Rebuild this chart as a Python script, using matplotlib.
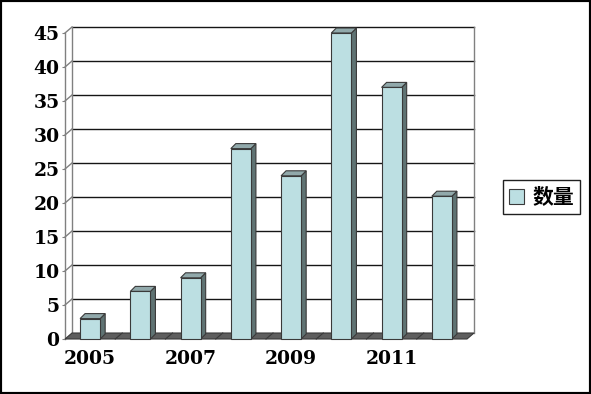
import matplotlib
matplotlib.use('Agg')
import matplotlib.pyplot as plt
from matplotlib.patches import Polygon, Rectangle
import numpy as np

years = ['2005', '2006', '2007', '2008', '2009', '2010', '2011', '2012']
counts = [3, 7, 9, 28, 24, 45, 37, 21]
yticks = [0, 5, 10, 15, 20, 25, 30, 35, 40, 45]
xtick_years = ['2005', '2007', '2009', '2011']
series_name = '数量'

W, H = 591, 394
fig = plt.figure(figsize=(W / 100, H / 100), dpi=100)
fig.patch.set_facecolor('white')
ax = fig.add_axes([65 / W, (H - 339) / H, 402 / W, 306 / H])
n = len(years)
xs = np.arange(n)
ax.set_xlim(-0.5, n - 0.5)
ax.set_ylim(0, 45)
for s in ax.spines.values():
    s.set_visible(False)
ax.patch.set_visible(False)


def px(dxp, dyp):
    inv = ax.transData.inverted()
    o = inv.transform((0, 0))
    p = inv.transform((dxp, dyp))
    return p[0] - o[0], p[1] - o[1]


wx, wy = px(7, 6)     # wall depth
bx, by = px(5, 5)     # bar depth
x0, x1 = -0.5, n - 0.5
ymax = yticks[-1]

grid_c = '#151515'
wall_c = '#808080'
# back wall gridlines
for v in yticks[1:]:
    ax.plot([x0 + wx, x1 + wx], [v + wy, v + wy], color=grid_c, lw=1.0,
            clip_on=False, zorder=1)
# left wall
ax.plot([x0, x0], [0, ymax], color=wall_c, lw=1.0, clip_on=False, zorder=1)
ax.plot([x0 + wx, x0 + wx], [wy, ymax + wy], color=wall_c, lw=1.0, clip_on=False, zorder=1)
for v in yticks[1:]:
    ax.plot([x0, x0 + wx], [v, v + wy], color=wall_c, lw=1.0, clip_on=False, zorder=1)
# right edge of back wall
ax.plot([x1 + wx, x1 + wx], [wy, ymax + wy], color=wall_c, lw=1.0, clip_on=False, zorder=1)

# floor
floor = Polygon([(x0, 0), (x1, 0), (x1 + wx, wy), (x0 + wx, wy)], closed=True,
                facecolor='#5e5e5e', edgecolor='#3a3a3a', lw=0.8, clip_on=False, zorder=2)
ax.add_patch(floor)
for b in np.arange(x0 + 1, x1, 1):
    ax.plot([b, b + wx], [0, wy], color='#3a3a3a', lw=0.8, clip_on=False, zorder=2)

# bars
bw = 0.4
front_c = '#bcdfe2'
side_c = '#5f7373'
top_c = '#91a9ab'
edge_c = '#3a3a3a'
for x, v in zip(xs, counts):
    side = Polygon([(x + bw / 2, 0), (x + bw / 2 + bx, by), (x + bw / 2 + bx, v + by), (x + bw / 2, v)],
                   closed=True, facecolor=side_c, edgecolor=edge_c, lw=0.8, clip_on=False, zorder=3)
    top = Polygon([(x - bw / 2, v), (x + bw / 2, v), (x + bw / 2 + bx, v + by), (x - bw / 2 + bx, v + by)],
                  closed=True, facecolor=top_c, edgecolor=edge_c, lw=0.8, clip_on=False, zorder=3)
    ax.add_patch(side)
    ax.add_patch(top)
ax.bar(xs, counts, width=bw, color=front_c, edgecolor=edge_c, linewidth=0.8,
       zorder=4, clip_on=False, label=series_name)

# ticks
ax.set_yticks(yticks)
ax.set_yticklabels([str(v) for v in yticks], fontfamily='DejaVu Serif',
                   fontweight='bold', fontsize=13.5)
ax.tick_params(axis='y', length=2, color=wall_c, pad=2)
ax.set_xticks([years.index(y) for y in xtick_years])
ax.set_xticklabels(xtick_years, fontfamily='DejaVu Serif', fontweight='bold', fontsize=13.5)
ax.tick_params(axis='x', length=0, pad=8)

leg = fig.legend(loc='center left', bbox_to_anchor=(503 / W, 1 - 197 / H),
                 prop={'family': ['Noto Sans CJK SC', 'DejaVu Sans'], 'weight': 'bold', 'size': 15},
                 frameon=True, fancybox=False, framealpha=1, edgecolor='#202020',
                 handlelength=0.7, handleheight=0.7, handletextpad=0.4,
                 borderpad=0.3, borderaxespad=0)
leg.get_frame().set_linewidth(1.0)

fig.add_artist(Rectangle((0, 0), 1, 1, transform=fig.transFigure, fill=False,
                         lw=3, edgecolor='black'))

fig.savefig('out.png', dpi=100, facecolor='white')
